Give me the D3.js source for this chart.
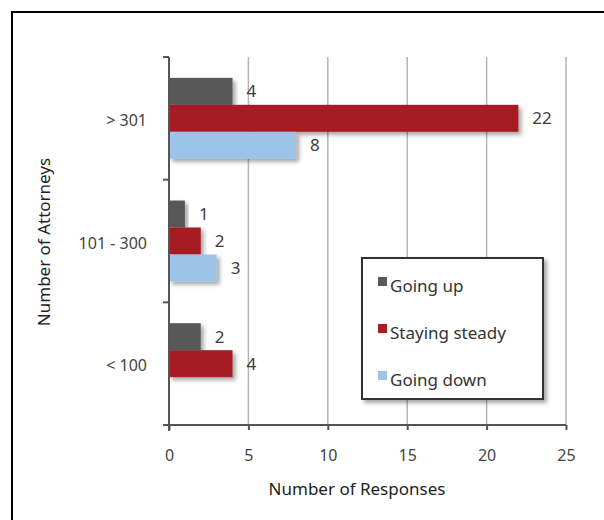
<!DOCTYPE html>
<html><head><meta charset="utf-8">
<script src="https://cdn.jsdelivr.net/npm/d3@7"></script>
<style>html,body{margin:0;padding:0;background:#fff;}svg{display:block;font-family:"Noto Sans",Lato,sans-serif;}</style>
</head><body>
<script>
const categories = ["> 301", "101 - 300", "< 100"];
const seriesNames = ["Going up", "Staying steady", "Going down"];
const goingUp = [4, 1, 2];
const stayingSteady = [22, 2, 4];
const goingDown = [8, 3, 0];
const xTicks = [0, 5, 10, 15, 20, 25];
const colors = ["#595959", "#a51e24", "#9dc3e8"];

const seriesValues = [goingUp, stayingSteady, goingDown];
const W = 604, H = 520;
const FONT = "'Noto Sans',Lato,sans-serif";
const svg = d3.select("body").append("svg").attr("width", W).attr("height", H);
const defs = svg.append("defs");
const f = defs.append("filter").attr("id","sh").attr("x","-10%").attr("y","-20%").attr("width","130%").attr("height","160%");
f.append("feDropShadow").attr("dx",3).attr("dy",3).attr("stdDeviation",2).attr("flood-color","#000").attr("flood-opacity",0.35);

// outer frame
svg.append("rect").attr("x",12).attr("y",12).attr("width",620).attr("height",540)
  .attr("fill","none").attr("stroke","#000").attr("stroke-width",2);

const pLeft = 169, pRight = 566, pTop = 57, pBottom = 425;
const x = d3.scaleLinear().domain([0,25]).range([pLeft,pRight]);
const y0 = d3.scaleBand().domain(categories).range([pTop,pBottom]).paddingInner(0.34).paddingOuter(0.17);
const y1 = d3.scaleBand().domain(seriesNames).range([0,y0.bandwidth()]);

// gridlines
svg.append("g").selectAll("line").data(xTicks.filter(t=>t>0)).join("line")
  .attr("x1",d=>x(d)).attr("x2",d=>x(d)).attr("y1",pTop).attr("y2",pBottom)
  .attr("stroke","#b5b5b5").attr("stroke-width",1.5);

// bars
const groups = svg.append("g").selectAll("g").data(categories).join("g")
  .attr("transform",d=>`translate(0,${y0(d)})`);
groups.each(function(cat, ci){
  const g = d3.select(this);
  seriesNames.forEach((s, si) => {
    const v = seriesValues[si][ci];
    if (v <= 0) return;
    g.append("rect").attr("x",x(0)).attr("y",y1(s)).attr("width",x(v)-x(0)).attr("height",y1.bandwidth())
      .attr("fill",colors[si]).attr("filter","url(#sh)");
    g.append("text").attr("x",x(v)+14).attr("y",y1(s)+y1.bandwidth()/2).attr("dy","0.35em")
      .attr("font-size",17).attr("fill","#3c3c3c").text(v);
  });
});

// x axis
const xAxis = d3.axisBottom(x).tickValues(xTicks).tickSize(5).tickPadding(20);
const gx = svg.append("g").attr("transform",`translate(0,${pBottom})`).call(xAxis);
gx.select(".domain").attr("d",`M${pLeft-6},0H${pRight}`).attr("stroke","#555").attr("stroke-width",2);
gx.selectAll(".tick line").attr("stroke","#555").attr("stroke-width",2);
gx.selectAll(".tick text").attr("font-size",16).attr("fill","#444").attr("font-family",FONT);

// y axis
const boundaries = [pTop, pTop+y0.step(), pTop+2*y0.step(), pBottom];
svg.append("line").attr("x1",pLeft).attr("x2",pLeft).attr("y1",pTop).attr("y2",pBottom+6)
  .attr("stroke","#555").attr("stroke-width",2);
svg.append("g").selectAll("line").data(boundaries).join("line")
  .attr("x1",pLeft-6).attr("x2",pLeft).attr("y1",d=>d).attr("y2",d=>d)
  .attr("stroke","#555").attr("stroke-width",2);
svg.append("g").selectAll("text").data(categories).join("text")
  .attr("x",147).attr("y",d=>y0(d)+y0.bandwidth()/2+2).attr("dy","0.35em").attr("text-anchor","end")
  .attr("font-size",16).attr("fill","#444").text(d=>d);

// axis titles
svg.append("text").attr("x",357).attr("y",489).attr("dy","0.35em").attr("text-anchor","middle")
  .attr("font-size",17).attr("fill","#222").text("Number of Responses");
svg.append("text").attr("transform","translate(44,242) rotate(-90)").attr("dy","0.35em").attr("text-anchor","middle")
  .attr("font-size",17).attr("fill","#222").text("Number of Attorneys");

// legend
const lg = svg.append("g");
lg.append("rect").attr("x",362).attr("y",258).attr("width",181).attr("height",141)
  .attr("fill","#fff").attr("stroke","#333").attr("stroke-width",2).attr("filter","url(#sh)");
seriesNames.forEach((s,i)=>{
  const cy = 286 + i*47;
  lg.append("rect").attr("x",378).attr("y",cy-9).attr("width",9).attr("height",9).attr("fill",colors[i]);
  lg.append("text").attr("x",390).attr("y",cy).attr("dy","0.35em").attr("font-size",17).attr("fill","#333").text(s);
});
</script>
</body></html>
